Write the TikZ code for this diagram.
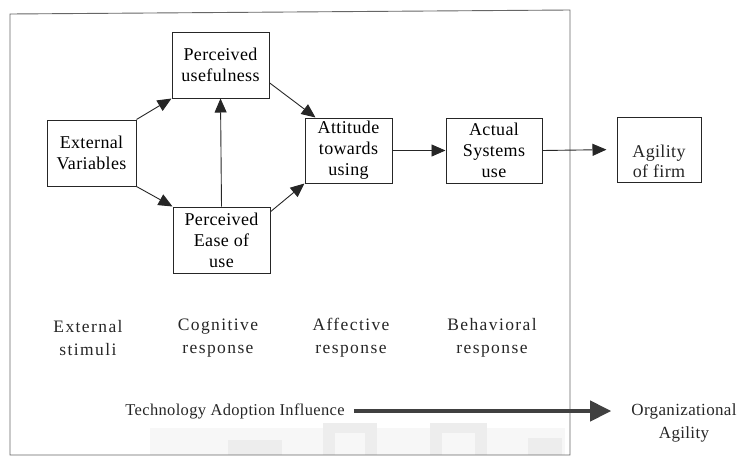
\documentclass[tikz,border=0pt]{standalone}
\usepackage{fontspec}
\setmainfont{Liberation Serif}
\newfontfamily\widerm[LetterSpace=8]{Liberation Serif}
\usetikzlibrary{arrows.meta}
\tikzset{
  box/.style={draw=black!85, line width=1pt, inner sep=0pt, align=center,
    font=\fontsize{18}{21}\selectfont\addfontfeatures{LetterSpace=2}},
  lbl/.style={inner sep=0pt, align=center, font=\fontsize{17.5}{23}\selectfont\widerm, text=black!85},
  flow/.style={draw=black!85, line width=0.9pt, -{Triangle[length=14pt,width=12pt]}},
  frame/.style={draw=black!60, line width=0.9pt},
  smudge/.style={fill=black!7, draw=none},
  haze/.style={fill=black!3, draw=none}
}
\begin{document}
\begin{tikzpicture}[x=1pt,y=-1pt]
  \useasboundingbox (0,0) rectangle (743,466);
  % faint blocks near the lower edge
  \fill[haze] (150,428) rectangle (565,455);
  \fill[smudge] (228,440) rectangle (282,455);
  \fill[smudge] (323,423) rectangle (377,433);
  \fill[smudge] (323,423) rectangle (335,455);
  \fill[smudge] (365,423) rectangle (377,455);
  \fill[smudge] (430,423) rectangle (487,433);
  \fill[smudge] (430,423) rectangle (442,455);
  \fill[smudge] (475,423) rectangle (487,455);
  \fill[smudge] (528,438) rectangle (562,455);

  % surrounding frame of the technology acceptance part
  \draw[frame] (10,14) -- (570,10) -- (570,455) -- (10,455) -- cycle;

  % boxes
  \node[box, minimum width=97pt, minimum height=66pt] (pu) at (220.5,65) {Perceived\\usefulness};
  \node[box, minimum width=89pt, minimum height=66pt] (ext) at (91.5,153) {External\\Variables};
  \node[box, minimum width=97pt, minimum height=66pt] (peou) at (221.5,240) {Perceived\\Ease of\\use};
  \node[box, minimum width=87pt, minimum height=65pt] (att) at (348.5,150.5) {Attitude\\towards\\using};
  \node[box, minimum width=96pt, minimum height=65pt] (act) at (494,150.5) {Actual\\Systems\\use};
  \node[box, minimum width=84pt, minimum height=65pt] (agil) at (659,149.5) {};
  \node[lbl, font=\fontsize{18}{20}\selectfont\addfontfeatures{LetterSpace=2}] (agiltxt) at (659,161) {Agility\\of firm};

  % connectors
  \draw[flow] (ext.north east) -- (pu.south west);
  \draw[flow] (ext.south east) -- (peou.north west);
  \draw[flow] (peou.north) -- (pu.south);
  \draw[flow] (pu.-20) -- (att.135);
  \draw[flow] (peou.30) -- (att.south west);
  \draw[flow] (att.east) -- (act.west);
  \draw[flow, shorten >=10pt] (act.east) -- (agil.west);

  % response stages
  \node[lbl] (s1) at (88,338) {External\\stimuli};
  \node[lbl] (s2) at (218,338) {Cognitive\\response};
  \node[lbl] (s3) at (351,338) {Affective\\response};
  \node[lbl] (s4) at (492,338) {Behavioral\\response};

  % overall influence
  \node[lbl, font=\fontsize{16.5}{20}\selectfont\addfontfeatures{LetterSpace=2}] (tai) at (235,411) {Technology Adoption Influence};
  \node[lbl, font=\fontsize{17}{23}\selectfont\addfontfeatures{LetterSpace=2}] (org) at (684,423) {Organizational\\Agility};
  \draw[draw=black!75, line width=4pt, -{Triangle[length=21pt,width=20pt]},
        shorten <=9pt, shorten >=20pt] (tai.east |- 0,411) -- (org.west |- 0,411);
\end{tikzpicture}
\end{document}
